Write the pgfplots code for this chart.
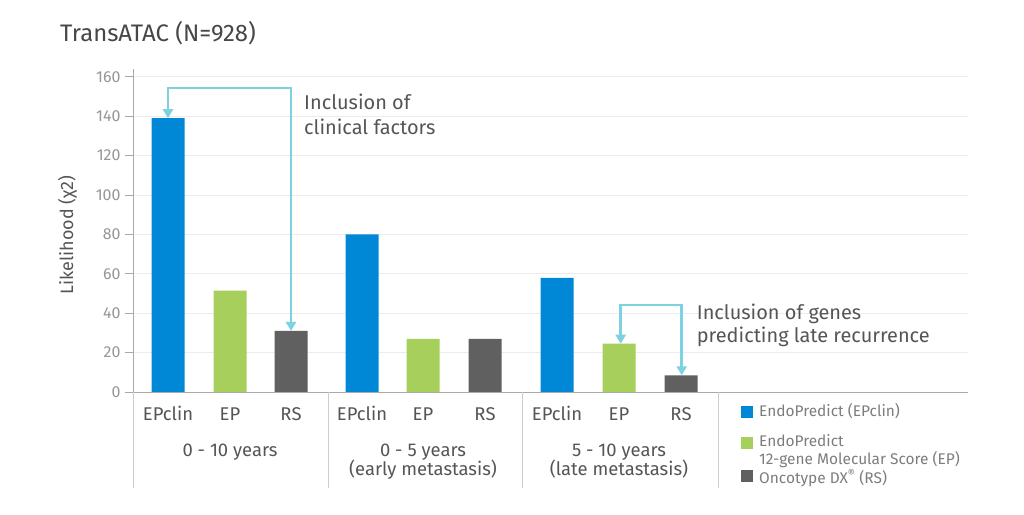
\documentclass[border=0pt]{standalone}
\usepackage{fontspec}
\setmainfont{Fira Sans}
\usepackage{pgfplots}
\pgfplotsset{compat=1.18}
\usetikzlibrary{arrows.meta}
\definecolor{barblue}{RGB}{0,136,214}
\definecolor{bargreen}{RGB}{166,207,92}
\definecolor{bargray}{RGB}{96,96,96}
\definecolor{arrowc}{RGB}{125,210,225}
\definecolor{cattext}{RGB}{85,85,85}
\definecolor{tickgray}{RGB}{150,150,150}
\definecolor{legtext}{RGB}{125,125,125}
\definecolor{axisgray}{RGB}{170,170,170}
\definecolor{gridgray}{RGB}{236,236,236}
\definecolor{sepgray}{RGB}{205,205,205}
\begin{document}
\begin{tikzpicture}
\path[use as bounding box, fill=white] (0,0) rectangle (1024bp,515bp);
\begin{axis}[
  at={(133bp,123bp)}, anchor=south west,
  scale only axis, width=835bp, height=323bp,
  xmin=133, xmax=968, ymin=0, ymax=164,
  axis x line*=bottom, axis y line*=left,
  axis line style={-, draw=axisgray, line width=0.8bp},
  xtick=\empty,
  ytick={0,20,...,160},
  tick align=outside, major tick length=8bp,
  ytick style={draw=axisgray, line width=0.8bp},
  ymajorgrids, grid style={draw=gridgray, line width=0.8bp},
  /pgf/number format/assume math mode=true,
  yticklabel style={font=\fontsize{16}{16}\selectfont, text=tickgray, xshift=-1bp},
  clip=false,
]
\addplot[ybar, bar width=33bp, bar shift=0pt, fill=barblue, draw=none] coordinates {(168,139) (362,80) (557,58)};
\addplot[ybar, bar width=33bp, bar shift=0pt, fill=bargreen, draw=none] coordinates {(230,51.5) (423,27) (619,24.5)};
\addplot[ybar, bar width=33bp, bar shift=0pt, fill=bargray, draw=none] coordinates {(291,31) (485,27) (681,8.5)};
\draw[arrowc, line width=2.5bp, {Triangle[width=10bp,length=9bp]}-{Triangle[width=10bp,length=9bp]}]
  (axis cs:291,31) -- (axis cs:291,154.4) -- (axis cs:168,154.4) -- (axis cs:168,139);
\draw[arrowc, line width=2.5bp, {Triangle[width=10bp,length=9bp]}-{Triangle[width=10bp,length=9bp]}]
  (axis cs:681.7,8.5) -- (axis cs:681.7,44.2) -- (axis cs:620.7,44.2) -- (axis cs:620.7,24.5);
\end{axis}
% title
\node[anchor=base west, text=black!72, font=\fontsize{24}{24}\selectfont, inner sep=0pt] at (60bp,473.3bp) {TransATAC (N=928)};
% y label
\node[rotate=90, anchor=base, text=cattext, font=\fontsize{18}{18}\selectfont, inner sep=0pt] at (73bp,280bp) {Likelihood (χ2)};
% annotations
\begin{scope}[every node/.style={anchor=base west, text=cattext, font=\fontsize{20}{20}\selectfont, inner sep=0pt}]
\node at (304bp,405bp) {Inclusion of};
\node at (304bp,380bp) {clinical factors};
\node at (696.7bp,195bp) {Inclusion of genes};
\node at (696.7bp,172bp) {predicting late recurrence};
\end{scope}
% category labels
\begin{scope}[every node/.style={anchor=base, text=cattext, font=\fontsize{18.5}{18.5}\selectfont, inner sep=0pt}]
\node at (168bp,94bp) {EPclin};
\node at (230bp,94bp) {EP};
\node at (291bp,94bp) {RS};
\node at (362bp,94bp) {EPclin};
\node at (423bp,94bp) {EP};
\node at (485bp,94bp) {RS};
\node at (557bp,94bp) {EPclin};
\node at (619bp,94bp) {EP};
\node at (681bp,94bp) {RS};
\node at (230bp,58bp) {0 - 10 years};
\node at (423bp,58bp) {0 - 5 years};
\node at (423bp,39.5bp) {(early metastasis)};
\node at (619bp,58bp) {5 - 10 years};
\node at (619bp,39.5bp) {(late metastasis)};
\end{scope}
% separators
\foreach \xx in {133,328,522,718}{\draw[sepgray, line width=0.8bp] (\xx bp,123bp) -- (\xx bp,27bp);}
% legend
\fill[barblue] (741bp,97bp) rectangle (753bp,109bp);
\fill[bargreen] (741bp,66.3bp) rectangle (753bp,78.3bp);
\fill[bargray] (741bp,33bp) rectangle (753bp,45bp);
\begin{scope}[every node/.style={anchor=base west, text=legtext, font=\fontsize{15.5}{15.5}\selectfont, inner sep=0pt}]
\node at (759bp,98.3bp) {EndoPredict (EPclin)};
\node at (759bp,68.3bp) {EndoPredict};
\node at (759bp,50bp) {12-gene Molecular Score (EP)};
\node at (759bp,32bp) {Oncotype DX\textsuperscript{®} (RS)};
\end{scope}
\end{tikzpicture}
\end{document}
